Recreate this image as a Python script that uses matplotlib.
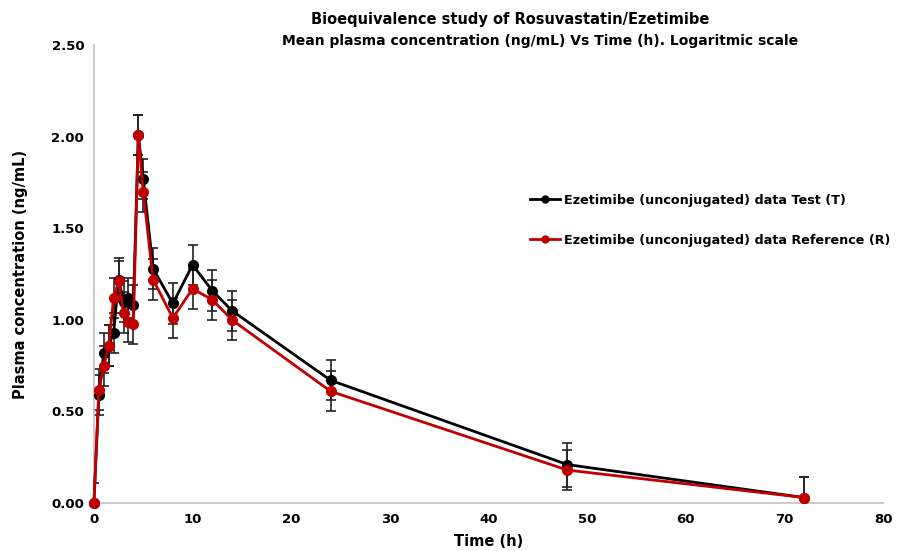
import numpy as np
import matplotlib.pyplot as plt
from matplotlib.lines import Line2D

# Sampling times (h)
time_h = [0, 0.5, 1, 1.5, 2, 2.5, 3, 3.5, 4, 4.5, 5, 6, 8, 10, 12, 14, 24, 48, 72]

# Mean plasma concentration (ng/mL)
test_mean = [0.00, 0.59, 0.82, 0.86, 0.93, 1.22, 1.10, 1.12, 1.08, 2.01, 1.77, 1.28,
             1.09, 1.30, 1.16, 1.05, 0.67, 0.21, 0.03]
ref_mean = [0.00, 0.62, 0.75, 0.86, 1.12, 1.21, 1.04, 0.99, 0.98, 2.01, 1.70, 1.22,
            1.01, 1.17, 1.11, 1.00, 0.61, 0.18, 0.03]

# Standard deviations
test_sd = [0.11, 0.11, 0.11, 0.11, 0.11, 0.12, 0.11, 0.11, 0.11, 0.11, 0.11, 0.11,
           0.11, 0.11, 0.11, 0.11, 0.11, 0.12, 0.11]
ref_sd = [0.00, 0.11, 0.11, 0.11, 0.11, 0.11, 0.11, 0.11, 0.11, 0.11, 0.11, 0.11,
          0.11, 0.11, 0.11, 0.11, 0.11, 0.11, 0.11]

labels = ['Ezetimibe (unconjugated) data Test (T)',
          'Ezetimibe (unconjugated) data Reference (R)']
colors = ['#000000', '#C00000']

x_ticks = [0, 10, 20, 30, 40, 50, 60, 70, 80]
y_ticks = [0.0, 0.5, 1.0, 1.5, 2.0, 2.5]

plt.rcParams['font.family'] = ['DejaVu Sans']
plt.rcParams['font.weight'] = 'bold'

fig = plt.figure(figsize=(9.03, 5.51), dpi=100)
ax = fig.add_axes([0.104, 0.087, 0.874, 0.831])

for mean, sd, color, label in [(test_mean, test_sd, colors[0], labels[0]),
                               (ref_mean, ref_sd, colors[1], labels[1])]:
    ax.errorbar(time_h, mean, yerr=sd, fmt='none', ecolor='#222222', elinewidth=1.2,
                capsize=3.8, capthick=1.2, zorder=2)
    ax.plot(time_h, mean, color=color, linewidth=2, marker='o', markersize=7,
            label=label, zorder=3, clip_on=False)

ax.set_xlim(0, 80)
ax.set_ylim(0, 2.5)
ax.set_xticks(x_ticks)
ax.set_yticks(y_ticks)
ax.set_yticklabels([f'{v:.2f}' for v in y_ticks])
ax.tick_params(length=0, labelsize=9.5, pad=7)
for lbl in ax.get_xticklabels() + ax.get_yticklabels():
    lbl.set_fontweight('bold')

for s in ['top', 'right']:
    ax.spines[s].set_visible(False)
for s in ['left', 'bottom']:
    ax.spines[s].set_color('#BFBFBF')
    ax.spines[s].set_linewidth(1.2)

ax.set_xlabel('Time (h)', fontsize=10.5, fontweight='bold', labelpad=6)
ax.set_ylabel('Plasma concentration (ng/mL)', fontsize=10.5, fontweight='bold', labelpad=17)

fig.text(0.565, 0.965, 'Bioequivalence study of Rosuvastatin/Ezetimibe',
         ha='center', va='center', fontsize=10.5, fontweight='bold')
fig.text(0.598, 0.926, 'Mean plasma concentration (ng/mL) Vs Time (h). Logaritmic scale',
         ha='center', va='center', fontsize=10, fontweight='bold')

handles = [Line2D([0], [0], color=c, linewidth=2, marker='o', markersize=5) for c in colors]
ax.legend(handles, labels, loc='center left', bbox_to_anchor=(0.553, 0.618), frameon=False,
          prop={'weight': 'bold', 'size': 9.2}, handlelength=2.3, handletextpad=0.35,
          labelspacing=2.1, borderpad=0, borderaxespad=0)

fig.savefig('out.png', dpi=100)
